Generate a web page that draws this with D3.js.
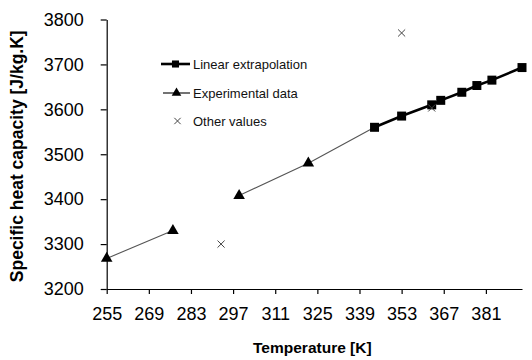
<!DOCTYPE html>
<html>
<head>
<meta charset="utf-8">
<script src="https://cdn.jsdelivr.net/npm/d3@7"></script>
<style>
  html, body { margin: 0; padding: 0; background: #fff; }
  svg { display: block; font-family: "Liberation Sans", Arial, sans-serif; }
</style>
</head>
<body>
<svg id="chart" width="532" height="360"></svg>
<script>
// ---- data ----
const xTicks = [255, 269, 283, 297, 311, 325, 339, 353, 367, 381];
const yTicks = [3200, 3300, 3400, 3500, 3600, 3700, 3800];

const linTemps  = [344, 353, 363, 366, 373, 378, 383, 393];
const linValues = [3560, 3585, 3610, 3620, 3638, 3653, 3665, 3693];

const expTemps  = [255, 277, null, 299, 322, 344];
const expValues = [3268, 3330, null, 3408, 3480, 3560];

const otherTemps  = [293, 353, 363];
const otherValues = [3300, 3770, 3603];

const seriesNames = ["Linear extrapolation", "Experimental data", "Other values"];
const xTitle = "Temperature [K]";
const yTitle = "Specific heat capacity [J/kg.K]";

// ---- layout ----
const svg = d3.select("#chart");
const x = d3.scaleLinear().domain([255, 393]).range([106.7, 522]);
const y = d3.scaleLinear().domain([3200, 3800]).range([289, 19.5]);

const timesSym = {
  draw(ctx, size) {
    const r = Math.sqrt(size) / 2;
    ctx.moveTo(-r, -r); ctx.lineTo(r, r);
    ctx.moveTo(r, -r); ctx.lineTo(-r, r);
  }
};

// axes
const yAxis = d3.axisLeft(y).tickValues(yTicks).tickSize(6).tickSizeOuter(0).tickPadding(17)
  .tickFormat(d3.format("d"));
const gy = svg.append("g").attr("transform", `translate(${x.range()[0]},0)`).call(yAxis);
gy.selectAll("text").attr("font-size", 18).attr("fill", "#000").attr("font-family", "Liberation Sans, Arial");
gy.selectAll("line, path").attr("stroke", "#000").attr("stroke-width", 1.2);

const xAxis = d3.axisBottom(x).tickValues(xTicks).tickSize(5).tickSizeOuter(0).tickPadding(13)
  .tickFormat(d3.format("d"));
const gx = svg.append("g").attr("transform", `translate(0,${y.range()[0]})`).call(xAxis);
gx.selectAll("text").attr("font-size", 18).attr("fill", "#000").attr("font-family", "Liberation Sans, Arial");
gx.selectAll("line, path").attr("stroke", "#000").attr("stroke-width", 1.2);

// titles
svg.append("text")
  .attr("x", d3.mean(x.range()) - 2).attr("y", 353)
  .attr("text-anchor", "middle").attr("font-weight", "bold").attr("font-size", 15.5)
  .text(xTitle);
svg.append("text")
  .attr("transform", `translate(23,${d3.mean(y.range()) + 2}) rotate(-90)`)
  .attr("text-anchor", "middle").attr("font-weight", "bold").attr("font-size", 17.5)
  .text(yTitle);

// experimental series
const expData = expTemps.map((t, i) => ({ t, v: expValues[i] }));
const line = d3.line().defined(d => d.t != null).x(d => x(d.t)).y(d => y(d.v));
svg.append("path").datum(expData).attr("d", line)
  .attr("fill", "none").attr("stroke", "#555").attr("stroke-width", 1.1);
svg.append("g").selectAll("path")
  .data(expData.filter(d => d.t != null && !linTemps.includes(d.t))).join("path")
  .attr("transform", d => `translate(${x(d.t)},${y(d.v)})`)
  .attr("d", d3.symbol(d3.symbolTriangle, 58)).attr("fill", "#000");

// linear extrapolation
const linData = linTemps.map((t, i) => ({ t, v: linValues[i] }));
svg.append("path").datum(linData).attr("d", line)
  .attr("fill", "none").attr("stroke", "#000").attr("stroke-width", 2.6);
svg.append("g").selectAll("path").data(linData).join("path")
  .attr("transform", d => `translate(${x(d.t)},${y(d.v)})`)
  .attr("d", d3.symbol(d3.symbolSquare, 81)).attr("fill", "#000");

// other values
const otherData = otherTemps.map((t, i) => ({ t, v: otherValues[i] }));
svg.append("g").selectAll("path").data(otherData).join("path")
  .attr("transform", d => `translate(${x(d.t)},${y(d.v)})`)
  .attr("d", d3.symbol(timesSym, 50)).attr("fill", "none").attr("stroke", "#444").attr("stroke-width", 1);

// legend
const legRows = [64, 93, 121];
const lg = svg.append("g");
// row 0
lg.append("line").attr("x1", 161).attr("x2", 190).attr("y1", legRows[0]).attr("y2", legRows[0])
  .attr("stroke", "#000").attr("stroke-width", 2.6);
lg.append("path").attr("transform", `translate(175.5,${legRows[0]})`)
  .attr("d", d3.symbol(d3.symbolSquare, 50)).attr("fill", "#000");
// row 1
lg.append("line").attr("x1", 163).attr("x2", 190).attr("y1", legRows[1]).attr("y2", legRows[1])
  .attr("stroke", "#000").attr("stroke-width", 1.1);
lg.append("path").attr("transform", `translate(176.5,${legRows[1]})`)
  .attr("d", d3.symbol(d3.symbolTriangle, 40)).attr("fill", "#000");
// row 2
lg.append("path").attr("transform", `translate(177.5,${legRows[2]})`)
  .attr("d", d3.symbol(timesSym, 40)).attr("fill", "none").attr("stroke", "#444").attr("stroke-width", 1);
lg.selectAll("text.leg").data(seriesNames).join("text").attr("class", "leg")
  .attr("x", 193).attr("y", (d, i) => legRows[i] + 4.6)
  .attr("font-size", 13).attr("fill", "#111")
  .text(d => d);
</script>
</body>
</html>
